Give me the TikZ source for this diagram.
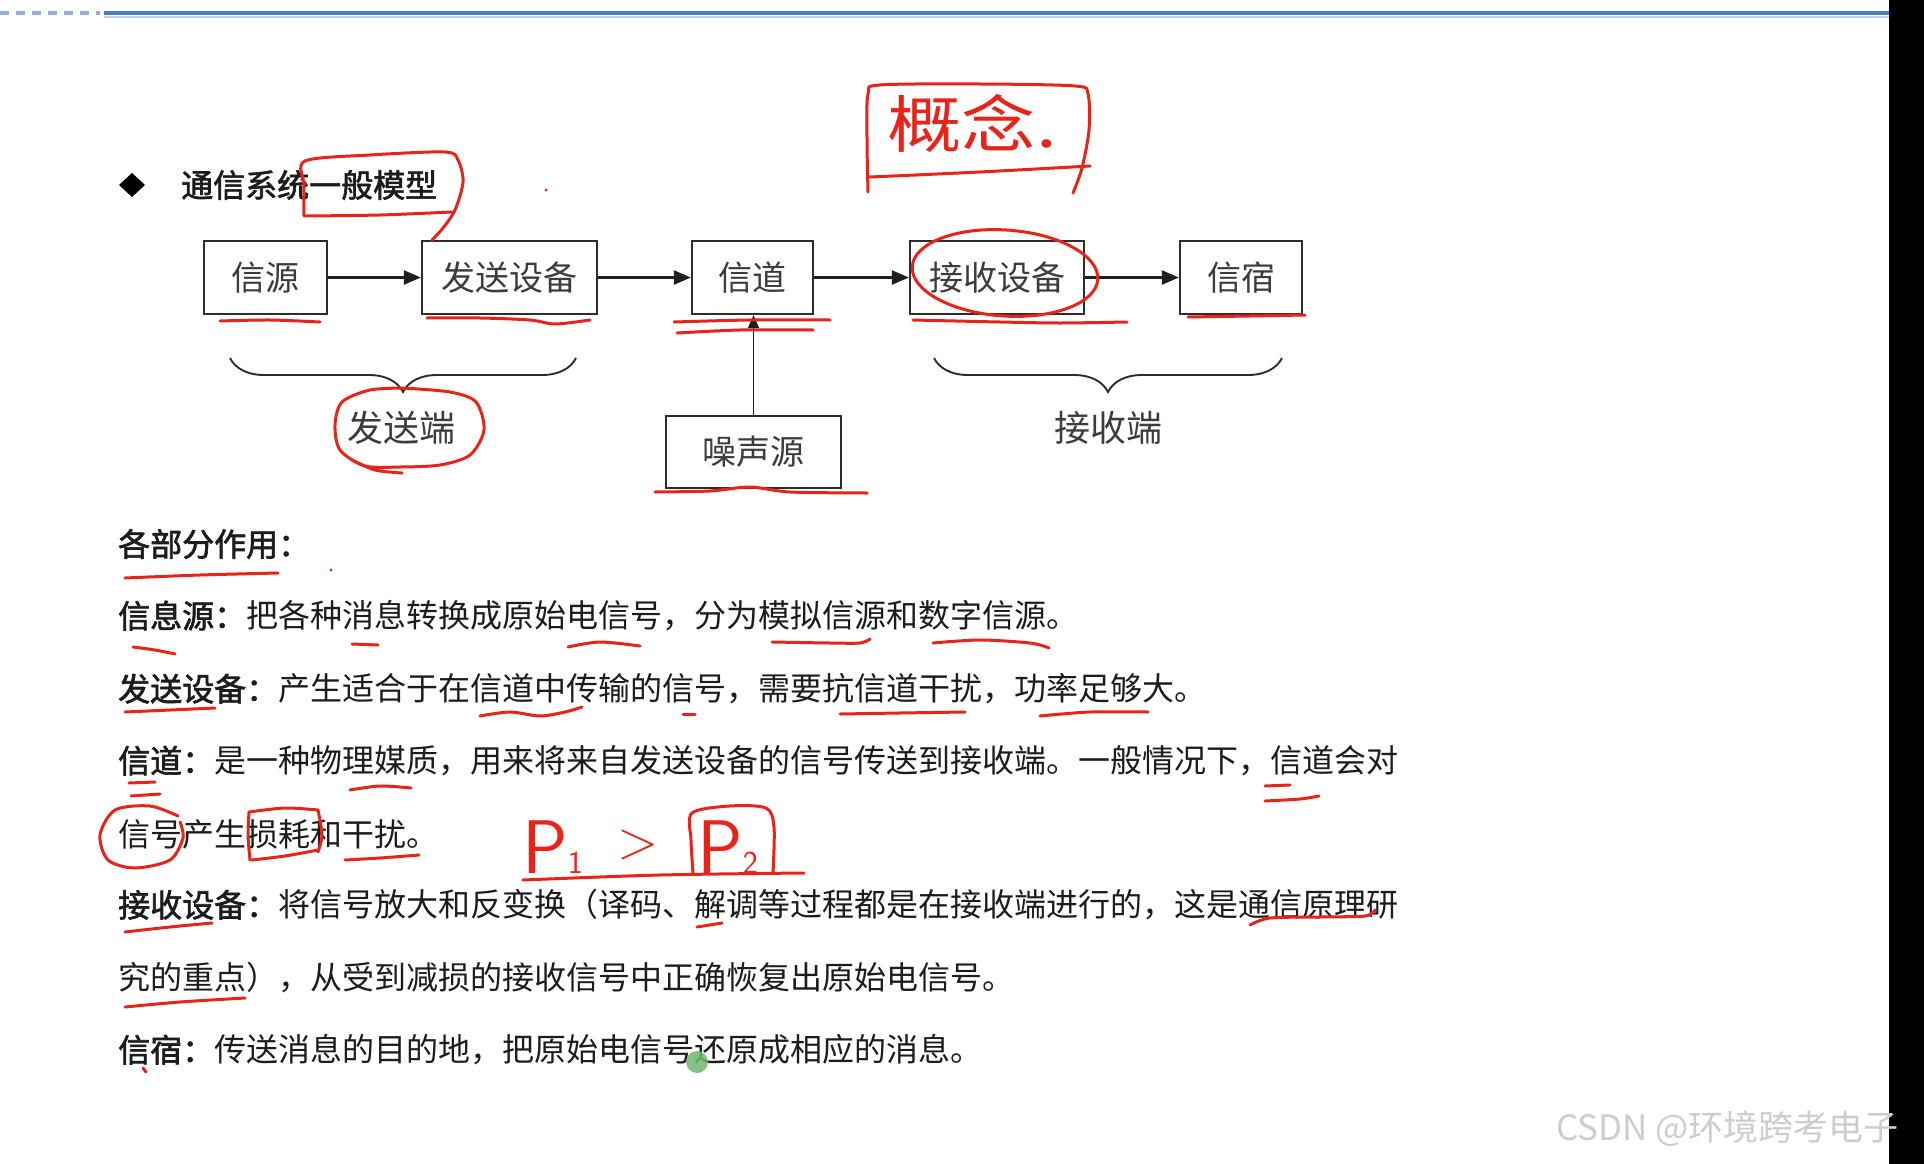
\documentclass[tikz,border=0pt]{standalone}
\usepackage{fontspec}
\usetikzlibrary{arrows.meta,decorations.pathreplacing,calc}
\newfontfamily\cjk{Noto Sans CJK SC}
\newfontfamily\cjkb[FakeBold=2]{Noto Sans CJK SC}
\definecolor{hred}{RGB}{232,36,26}
\definecolor{boxgray}{RGB}{45,45,45}
\definecolor{txtgray}{RGB}{60,60,60}
\definecolor{bodytxt}{RGB}{28,28,28}
\definecolor{topblue}{RGB}{78,124,190}
\definecolor{wmark}{RGB}{205,205,205}
\definecolor{cursor}{RGB}{110,185,110}
\begin{document}
\begin{tikzpicture}[x=1pt,y=-1pt,
  blk/.style={draw=boxgray,line width=2.2pt,minimum height=73pt,inner sep=0pt,
    font=\cjk\fontsize{34}{34}\selectfont,text=txtgray},
  sig/.style={line width=2.2pt,draw=black!88,-{Triangle[length=17pt,width=14pt]}},
  body/.style={anchor=west,inner sep=0pt,font=\cjk\fontsize{32}{32}\selectfont,text=bodytxt},
  lbl/.style={inner sep=0pt,font=\cjk\fontsize{36}{36}\selectfont,text=txtgray},
  bracestyle/.style={draw=boxgray,line width=1.9pt,decorate,decoration={brace,amplitude=34pt,aspect=0.5}},
  pen/.style={draw=hred,line width=3pt,line cap=round,line join=round},
  hand/.style={text=hred,inner sep=0pt}
]
\useasboundingbox (0,0) rectangle (1924,1164);
\fill[white] (0,0) rectangle (1924,1164);

% top rule
\draw[topblue!60,line width=4pt,dash pattern=on 9pt off 7pt] (0,13) -- (100,13);
\draw[topblue,line width=4.5pt] (104,13) -- (1889,13);
\draw[topblue!35,line width=1.5pt] (104,17) -- (1889,17);

% title
\fill[black] (119,185) -- (132,173) -- (145,185) -- (132,197) -- cycle;
\node[anchor=west,inner sep=0pt,font=\cjkb\fontsize{32}{32}\selectfont,text=bodytxt] (title) at (181,185) {通信系统一般模型};

% blocks
\node[blk,minimum width=123pt] (src)   at (265.5,277.5) {信源};
\node[blk,minimum width=175pt] (tx)    at (509.5,277.5) {发送设备};
\node[blk,minimum width=121pt] (chan)  at (752.5,277.5) {信道};
\node[blk,minimum width=174pt] (rx)    at (997,277.5)   {接收设备};
\node[blk,minimum width=122pt] (sink)  at (1241,277.5)  {信宿};
\node[blk,minimum width=175pt,minimum height=72pt] (noise) at (753.5,452) {噪声源};

\draw[sig] (src) -- (tx);
\draw[sig] (tx) -- (chan);
\draw[sig] (chan) -- (rx);
\draw[sig] (rx) -- (sink);
\draw[line width=1.6pt,draw=black!88,-{Triangle[length=13pt,width=11pt]}] (noise.north) -- (noise.north |- chan.south);

% braces
\coordinate (lbA) at (576,358);
\coordinate (lbB) at (230,358);
\coordinate (rbA) at (1282,358);
\coordinate (rbB) at (934,358);
\draw[bracestyle] (lbA) -- (lbB);
\draw[bracestyle] (rbA) -- (rbB);
\node[lbl] (txend) at (401,428) {发送端};
\node[lbl] (rxend) at (1108,428) {接收端};

% body text
\node[body] (h0) at (118,544) {\cjkb 各部分作用：};
\node[body] (l1) at (118,616) {{\cjkb 信息源：}把各种消息转换成原始电信号，分为模拟信源和数字信源。};
\node[body] (l2) at (118,689) {{\cjkb 发送设备：}产生适合于在信道中传输的信号，需要抗信道干扰，功率足够大。};
\node[body] (l3) at (118,761) {{\cjkb 信道：}是一种物理媒质，用来将来自发送设备的信号传送到接收端。一般情况下，信道会对};
\node[body] (l4) at (118,834) {信号产生损耗和干扰。};
\node[body] (l5) at (118,905) {{\cjkb 接收设备：}将信号放大和反变换（译码、解调等过程都是在接收端进行的，这是通信原理研};
\node[body] (l6) at (118,978) {究的重点），从受到减损的接收信号中正确恢复出原始电信号。};
\node[body] (l7) at (118,1050) {{\cjkb 信宿：}传送消息的目的地，把原始电信号还原成相应的消息。};

% ---- red handwriting ----
% concept box
\node[hand,font=\cjk\fontsize{62}{62}\selectfont,xscale=1.2] (gainian) at (972,124) {概念.};
\draw[pen] plot[smooth] coordinates {(868,192) (867,140) (868,94) (880,85) (980,84) (1075,86) (1088,94) (1089,130) (1082,168) (1073,193)};
\draw[pen] plot[smooth] coordinates {(870,177) (980,172) (1090,166)};
% box round "一般模型"
\draw[pen] plot[smooth] coordinates {(304,216) (304,185) (305,161) (370,155) (445,152) (458,160) (463,182) (455,210) (443,228) (432,240)};
\draw[pen] plot[smooth] coordinates {(305,216) (380,215) (452,212)};
\fill[hred] (546,190) circle (1.6);
% underlines in the diagram
\draw[pen] plot[smooth] coordinates {(220,321) (270,320) (320,322)};
\draw[pen] plot[smooth] coordinates {(427,318) (480,318) (530,320) (555,324) (590,320)};
\draw[pen] plot[smooth] coordinates {(674,322) (750,320) (830,320)};
\draw[pen] plot[smooth] coordinates {(677,333) (740,330) (813,330)};
\draw[pen] plot[smooth] coordinates {(913,320) (1000,322) (1060,323) (1127,322)};
\draw[pen] plot[smooth] coordinates {(1188,317) (1250,316) (1305,315)};
\draw[pen] plot[smooth] coordinates {(655,492) (710,491) (750,487) (790,492) (867,493)};
\draw[pen,rotate around={-4:(1005,273)}] (1005,273) ellipse [x radius=93, y radius=43];
% loop round "发送端"
\draw[pen] plot[smooth] coordinates {(402,388) (450,392) (476,402) (484,430) (470,455) (440,465) (400,467) (365,466) (340,450) (335,425) (342,402) (370,390) (405,388)};
\draw[pen] plot[smooth] coordinates {(352,460) (375,470) (402,473)};
% body marks
\draw[pen] plot[smooth] coordinates {(125,578) (200,575) (278,573)};
\fill[hred] (331,570) circle (1.6);
\draw[pen] plot[smooth] coordinates {(133,647) (155,650) (175,654)};
\draw[pen] (352,644) -- (378,645);
\draw[pen] plot[smooth] coordinates {(568,647) (600,642) (640,646)};
\draw[pen] plot[smooth] coordinates {(772,642) (830,643) (860,643) (870,639)};
\draw[pen] plot[smooth] coordinates {(933,643) (980,640) (1030,643) (1049,648)};
\draw[pen] plot[smooth] coordinates {(125,712) (170,710) (215,708)};
\draw[pen] plot[smooth] coordinates {(480,716) (510,712) (540,716) (565,712) (582,707)};
\draw[pen] (683,714) -- (695,714);
\draw[pen] plot[smooth] coordinates {(840,714) (900,713) (965,712)};
\draw[pen] plot[smooth] coordinates {(1040,716) (1090,712) (1148,712)};
\draw[pen] (129,783) -- (155,782);
\draw[pen] (131,796) -- (160,794);
\draw[pen] plot[smooth] coordinates {(350,790) (380,786) (411,788)};
\draw[pen] (1265,786) -- (1290,785);
\draw[pen] plot[smooth] coordinates {(1265,801) (1300,799) (1319,796)};
\draw[pen] plot[smooth] coordinates {(178,816) (150,806) (115,810) (100,835) (108,860) (135,868) (170,860) (183,838) (180,822)};
\draw[pen] plot[smooth] coordinates {(250,860) (248,835) (249,812)};
\draw[pen] plot[smooth] coordinates {(249,812) (285,808) (318,810)};
\draw[pen] plot[smooth] coordinates {(318,810) (322,835) (318,852)};
\draw[pen] plot[smooth] coordinates {(252,860) (285,856) (318,850)};
\draw[pen] plot[smooth] coordinates {(345,860) (380,858) (419,855)};
% P1 > P2
\node[hand,anchor=base west,font=\sffamily\fontsize{76}{76}\selectfont] (p1) at (522,873) {P{\fontsize{32}{32}\selectfont 1}};
\node[hand,font=\sffamily\fontsize{54}{54}\selectfont] (gt) at (638,845) {>};
\node[hand,anchor=base west,font=\sffamily\fontsize{76}{76}\selectfont] (p2) at (697,873) {P{\fontsize{32}{32}\selectfont 2}};
\draw[pen] plot[smooth] coordinates {(693,873) (691,840) (692,813) (730,806) (766,808) (774,827) (773,873)};
\draw[pen] plot[smooth] coordinates {(523,880) (660,875) (804,873)};
\draw[pen] plot[smooth] coordinates {(125,932) (170,927) (212,923)};
\draw[pen] (697,927) -- (722,923);
\draw[pen] plot[smooth] coordinates {(1250,925) (1270,918) (1320,917) (1365,916) (1375,910)};
\draw[pen] plot[smooth] coordinates {(125,1007) (180,1002) (245,998)};
\draw[pen] (143,1068) -- (146,1072);
% cursor dot
\fill[cursor,opacity=0.85] (697,1062) circle (11);

% right black strip and watermark
\fill[black] (1889,0) rectangle (1924,1164);
\node[anchor=west,inner sep=0pt,font=\cjk\fontsize{35}{35}\selectfont,text=wmark] (wm) at (1556,1129) {CSDN @环境跨考电子};
\end{tikzpicture}
\end{document}
